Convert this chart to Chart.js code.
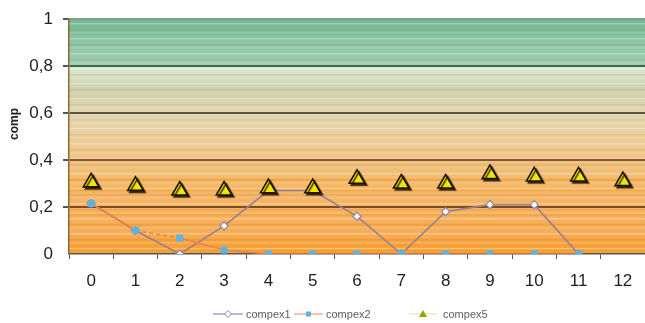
<!DOCTYPE html>
<html>
<head>
<meta charset="utf-8">
<script src="https://cdn.jsdelivr.net/npm/chart.js@4.4.1/dist/chart.umd.min.js"></script>
<style>
  html, body { margin: 0; padding: 0; background: #fff; }
  #wrap { width: 645px; height: 323px; }
</style>
</head>
<body>
<div id="wrap"><canvas id="c" width="645" height="323"></canvas></div>
<script>
// Categories along the x axis
const categories = ['0','1','2','3','4','5','6','7','8','9','10','11','12'];

// Series values
const compex1 = [0.215, 0.10, 0.00, 0.12, 0.27, 0.27, 0.16, 0.00, 0.18, 0.21, 0.21, 0.00, null];
const compex2 = [0.215, 0.10, 0.068, 0.017, 0.00, 0.00, 0.00, 0.00, 0.00, 0.00, 0.00, 0.00, null];
const compex5 = [0.305, 0.29, 0.27, 0.27, 0.28, 0.28, 0.32, 0.30, 0.30, 0.34, 0.33, 0.33, 0.31];

// Y tick labels (decimal comma)
const yTickValues = [0, 0.2, 0.4, 0.6, 0.8, 1];
const yTickLabels = ['0', '0,2', '0,4', '0,6', '0,8', '1'];

const seriesNames = ['compex1', 'compex2', 'compex5'];
const axisTitle = 'comp';

// Colours of the horizontal grid lines
const gridColors = { '0.2': '#7a4e22', '0.4': '#80592c', '0.6': '#5a5640', '0.8': '#46664a', '1': '#7d9f8c' };

// Striped background of the plot area: green on top fading to orange at the bottom
const bandPlugin = {
  id: 'bands',
  beforeDraw(chart) {
    const { ctx, chartArea: a, scales: { y } } = chart;
    const g = ctx.createLinearGradient(0, y.getPixelForValue(1), 0, y.getPixelForValue(0));
    const stops = [
      [1.0, '#72b692'], [0.9, '#8cc5a5'], [0.805, '#9dceae'], [0.795, '#dbe8d2'],
      [0.7, '#cfd0ae'], [0.6, '#e2d6b2'], [0.5, '#ecd09c'], [0.4, '#f0c282'],
      [0.3, '#f4b96a'], [0.2, '#f6b262'], [0.1, '#f7ae5a'], [0.0, '#f6a036']
    ];
    stops.forEach(([v, c]) => g.addColorStop(1 - v, c));
    ctx.save();
    ctx.fillStyle = g;
    ctx.fillRect(a.left, a.top, a.right - a.left, a.bottom - a.top);
    // thin alternating stripes
    ctx.beginPath();
    ctx.rect(a.left, a.top, a.right - a.left, a.bottom - a.top);
    ctx.clip();
    let k = 0;
    for (let py = a.top + 1; py < a.bottom; py += 3, k++) {
      const m = k % 5;
      if (m === 1) ctx.fillStyle = 'rgba(255,255,255,0.30)';
      else if (m === 3) ctx.fillStyle = 'rgba(120,80,20,0.10)';
      else if (m === 4) ctx.fillStyle = 'rgba(255,255,255,0.14)';
      else continue;
      ctx.fillRect(a.left, py, a.right - a.left, 1.5);
    }
    // brighter orange bands near the bottom
    ctx.fillStyle = 'rgba(250,150,20,0.4)';
    [0.02, 0.04, 0.065, 0.13, 0.17, 0.275, 0.32].forEach(v => {
      ctx.fillRect(a.left, y.getPixelForValue(v), a.right - a.left, 2);
    });
    ctx.restore();
  }
};

// Drop shadow behind the triangle markers
const shadowPlugin = {
  id: 'markerShadow',
  beforeDatasetDraw(chart, args) {
    if (args.index === 2) {
      const ctx = chart.ctx;
      ctx.save();
      ctx.shadowColor = 'rgba(40,20,0,0.85)';
      ctx.shadowOffsetX = 2;
      ctx.shadowOffsetY = 2;
      ctx.shadowBlur = 1;
    }
  },
  afterDatasetDraw(chart, args) {
    if (args.index === 2) chart.ctx.restore();
  }
};

// Axis title and legend drawn as text on the canvas
const labelsPlugin = {
  id: 'labels',
  afterDraw(chart) {
    const ctx = chart.ctx;
    ctx.save();
    // y axis title
    ctx.translate(15, 124);
    ctx.rotate(-Math.PI / 2);
    ctx.fillStyle = '#222';
    ctx.font = 'bold 12px "Liberation Sans", Arial, sans-serif';
    ctx.textAlign = 'center';
    ctx.textBaseline = 'middle';
    ctx.fillText(axisTitle, 0, 0);
    ctx.restore();

    // legend
    const ly = 314;
    const items = [
      { x0: 213, x1: 243, text: 246 },
      { x0: 294, x1: 323, text: 326 },
      { x0: 409, x1: 437, text: 443 }
    ];
    ctx.save();
    ctx.font = '11px "Liberation Sans", Arial, sans-serif';
    ctx.textBaseline = 'middle';
    items.forEach((it, i) => {
      const ds = chart.data.datasets[i];
      ctx.strokeStyle = i === 2 ? '#e8e4a8' : ds.legendLine;
      ctx.lineWidth = 1.2;
      ctx.beginPath();
      ctx.moveTo(it.x0, ly);
      ctx.lineTo(it.x1, ly);
      ctx.stroke();
      const cx = (it.x0 + it.x1) / 2;
      ctx.fillStyle = ds.pointBackgroundColor;
      ctx.strokeStyle = ds.pointBorderColor;
      ctx.lineWidth = 1;
      ctx.beginPath();
      if (i === 0) {
        ctx.moveTo(cx, ly - 3.5); ctx.lineTo(cx + 3.5, ly); ctx.lineTo(cx, ly + 3.5); ctx.lineTo(cx - 3.5, ly); ctx.closePath();
        ctx.fill(); ctx.stroke();
      } else if (i === 1) {
        ctx.rect(cx - 2.5, ly - 2.5, 5, 5);
        ctx.fill();
      } else {
        ctx.fillStyle = '#9aa000';
        ctx.moveTo(cx, ly - 4); ctx.lineTo(cx + 4, ly + 3); ctx.lineTo(cx - 4, ly + 3); ctx.closePath();
        ctx.fill();
      }
      ctx.fillStyle = '#5e5e5e';
      ctx.fillText(seriesNames[i], it.text, ly + 0.5);
    });
    ctx.restore();
  }
};

new Chart(document.getElementById('c'), {
  type: 'line',
  data: {
    labels: categories,
    datasets: [
      {
        label: seriesNames[0],
        data: compex1,
        borderColor: '#9a7f8e',
        legendLine: '#8c8cc4',
        borderWidth: 1.6,
        pointStyle: 'rectRot',
        pointRadius: 4,
        pointBackgroundColor: '#ffffff',
        pointBorderColor: '#8a84a8',
        pointBorderWidth: 1.2,
        tension: 0,
        spanGaps: false,
        order: 2
      },
      {
        label: seriesNames[1],
        data: compex2,
        borderColor: '#ee8046',
        legendLine: '#f09a80',
        borderWidth: 1.5,
        pointStyle: 'rect',
        pointRadius: 5,
        pointBackgroundColor: '#5cb4e2',
        pointBorderColor: '#5cb4e2',
        pointBorderWidth: 0,
        segment: { borderDash: c => (c.p0DataIndex === 1 ? [4, 3] : undefined) },
        tension: 0,
        order: 1
      },
      {
        label: seriesNames[2],
        data: compex5,
        showLine: false,
        borderColor: '#e8e4a8',
        pointStyle: 'triangle',
        pointRadius: 9,
        pointBackgroundColor: '#f2e600',
        pointBorderColor: '#1a1400',
        pointBorderWidth: 1.6,
        order: 0
      }
    ]
  },
  options: {
    responsive: false,
    animation: false,
    events: [],
    layout: { autoPadding: false, padding: { top: 19, right: -2, left: 0, bottom: 0 } },
    plugins: { legend: { display: false }, tooltip: { enabled: false } },
    scales: {
      x: {
        type: 'category',
        offset: true,
        border: { display: true, color: '#555', width: 1.5 },
        grid: { display: true, drawOnChartArea: false, tickLength: 5, color: '#555', offset: true },
        ticks: {
          color: '#1e1e1e',
          padding: 12,
          maxRotation: 0,
          autoSkip: false,
          font: { family: '"Liberation Sans", Arial, sans-serif', size: 17 }
        },
        afterFit(s) { s.height = 69; s.paddingLeft = 0; s.paddingRight = 0; }
      },
      y: {
        min: 0,
        max: 1,
        afterBuildTicks(s) { s.ticks = yTickValues.map(v => ({ value: v })); },
        border: { display: true, color: '#8a6a3a', width: 1.5 },
        grid: {
          drawTicks: true,
          tickLength: 6,
          tickColor: '#555',
          lineWidth: c => (c.tick && gridColors[String(c.tick.value)] ? 2 : 0),
          color: c => (c.tick && gridColors[String(c.tick.value)]) || 'rgba(0,0,0,0)'
        },
        ticks: {
          color: '#1e1e1e',
          padding: 10,
          font: { family: '"Liberation Sans", Arial, sans-serif', size: 17 },
          callback: (v) => yTickLabels[yTickValues.indexOf(Math.round(v * 10) / 10)] ?? ''
        },
        afterFit(s) { s.width = 69; s.paddingTop = 0; s.paddingBottom = 0; }
      }
    }
  },
  plugins: [bandPlugin, shadowPlugin, labelsPlugin]
});
</script>
</body>
</html>
